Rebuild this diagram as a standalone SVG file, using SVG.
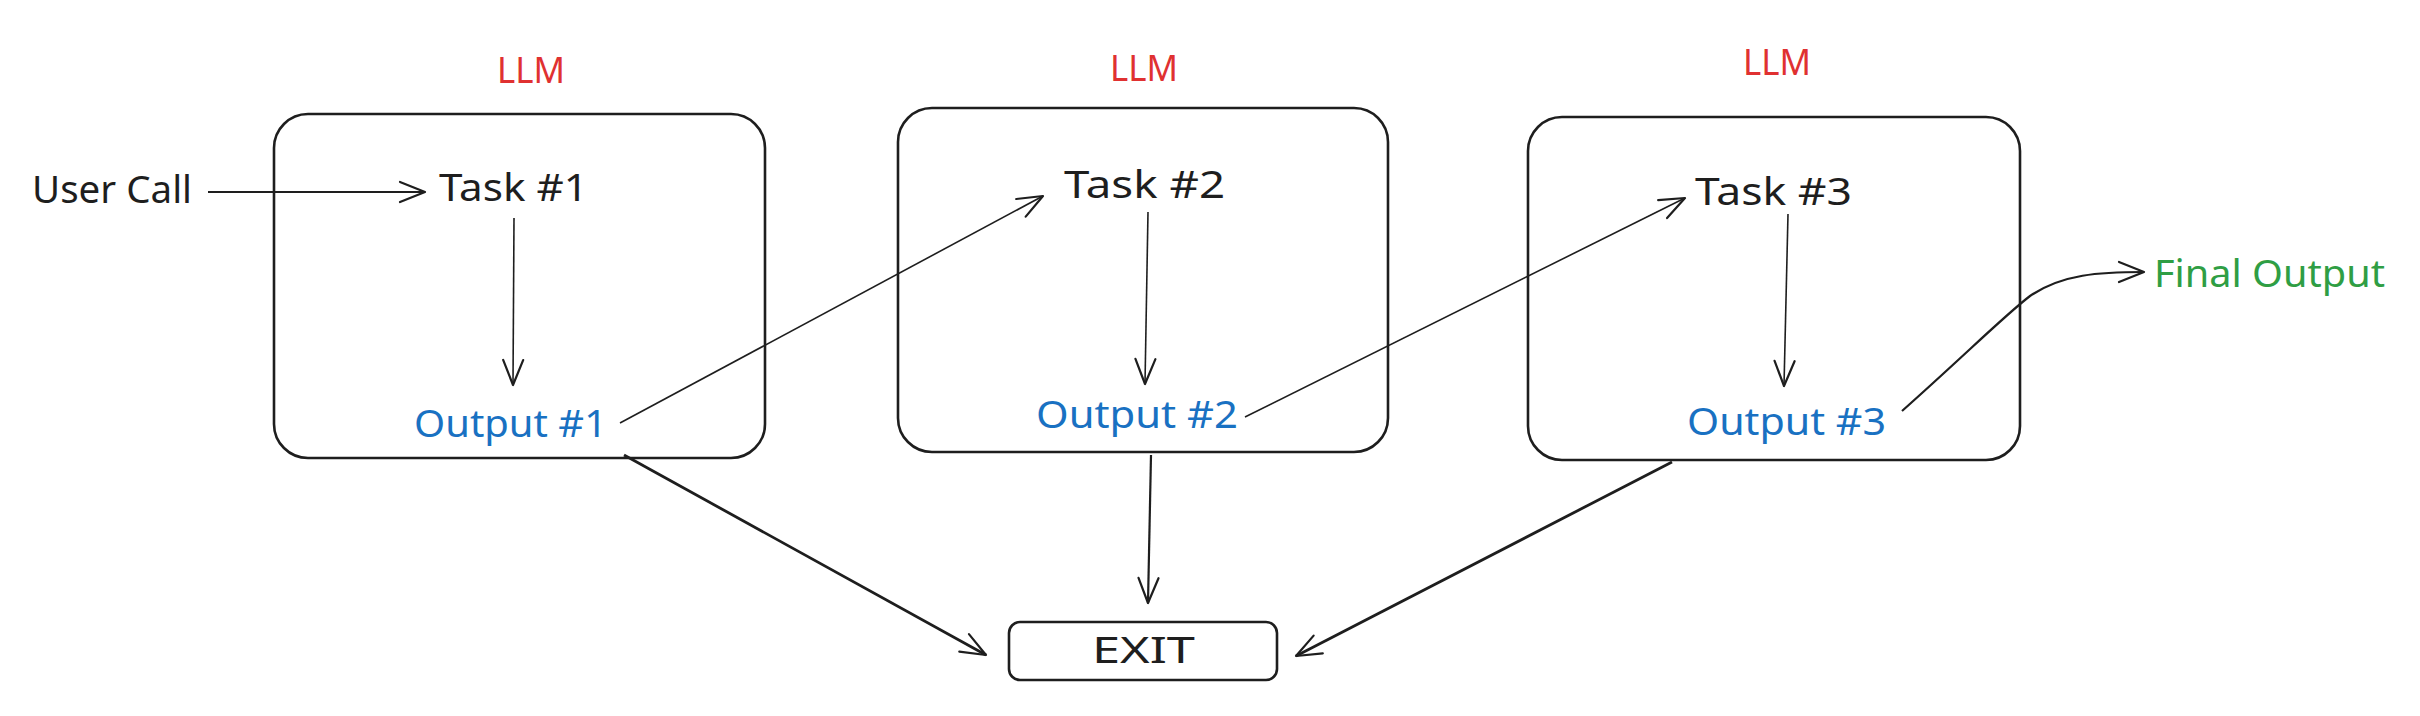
<svg xmlns="http://www.w3.org/2000/svg" width="2420" height="716" viewBox="0 0 2420 716">
<style>
.bg{fill:#ffffff}
.box{fill:none;stroke:#1e1e1e;stroke-width:2.6}
.t{font-family:"Noto Sans","DejaVu Sans",sans-serif;font-size:38px}
.blk{fill:#1e1e1e}
.red{fill:#e03131;font-size:36px}
.blue{fill:#1971c2}
.green{fill:#2f9e44}
.c{fill:none;stroke:#1e1e1e;stroke-width:2.2;marker-end:url(#ah)}
.thin{stroke-width:1.6}
.thick{stroke-width:2.8}
</style>
<defs>
<marker id="ah" markerUnits="userSpaceOnUse" viewBox="-28 -13 31 26" markerWidth="31" markerHeight="26" refX="0" refY="0" orient="auto">
<path d="M-25,-10 L0,0 L-25,10" fill="none" stroke="#1e1e1e" stroke-width="2.2" stroke-linecap="round" stroke-linejoin="round"/>
</marker>
</defs>
<rect class="bg" x="0" y="0" width="2420" height="716"/>
<g id="llm1">
<rect class="box" x="274" y="114" width="491" height="344" rx="34"/>
<text class="t red" x="497" y="83" textLength="68" lengthAdjust="spacingAndGlyphs">LLM</text>
</g>
<g id="llm2">
<rect class="box" x="898" y="108" width="490" height="344" rx="34"/>
<text class="t red" x="1110" y="81" textLength="68" lengthAdjust="spacingAndGlyphs">LLM</text>
</g>
<g id="llm3">
<rect class="box" x="1528" y="117" width="492" height="343" rx="34"/>
<text class="t red" x="1743" y="75" textLength="68" lengthAdjust="spacingAndGlyphs">LLM</text>
</g>
<g id="user-call"><text class="t blk" x="32" y="203" textLength="160" lengthAdjust="spacingAndGlyphs">User Call</text></g>
<g id="task1"><text class="t blk" x="439" y="201" textLength="149" lengthAdjust="spacingAndGlyphs">Task #1</text></g>
<g id="task2"><text class="t blk" x="1064" y="198" textLength="161" lengthAdjust="spacingAndGlyphs">Task #2</text></g>
<g id="task3"><text class="t blk" x="1695" y="205" textLength="157" lengthAdjust="spacingAndGlyphs">Task #3</text></g>
<g id="output1"><text class="t blue" x="414" y="437" textLength="193" lengthAdjust="spacingAndGlyphs">Output #1</text></g>
<g id="output2"><text class="t blue" x="1036" y="428" textLength="202" lengthAdjust="spacingAndGlyphs">Output #2</text></g>
<g id="output3"><text class="t blue" x="1687" y="435" textLength="199" lengthAdjust="spacingAndGlyphs">Output #3</text></g>
<g id="final-output"><text class="t green" x="2154" y="287" textLength="231" lengthAdjust="spacingAndGlyphs">Final Output</text></g>
<g id="exit">
<rect class="box" x="1009" y="622" width="268" height="58" rx="11"/>
<text class="t blk" x="1092" y="663" style="font-size:36px" textLength="103" lengthAdjust="spacingAndGlyphs">EXIT</text>
</g>
<g id="connectors">
<path class="c" d="M208,192 L425,192"/>
<path class="c thin" d="M514,218 L513,385"/>
<path class="c thin" d="M620,423 L1043,196"/>
<path class="c thin" d="M1148,212 L1145,384"/>
<path class="c thin" d="M1245,417 L1685,198"/>
<path class="c thin" d="M1788,214 L1784,386"/>
<path class="c" d="M1902,411 C1965,355 2005,315 2030,296 C2062,274 2100,272 2144,272"/>
<path class="c thick" d="M624,455 L986,655"/>
<path class="c" d="M1151,455 L1148,603"/>
<path class="c thick" d="M1672,462 L1296,656"/>
</g>
</svg>
